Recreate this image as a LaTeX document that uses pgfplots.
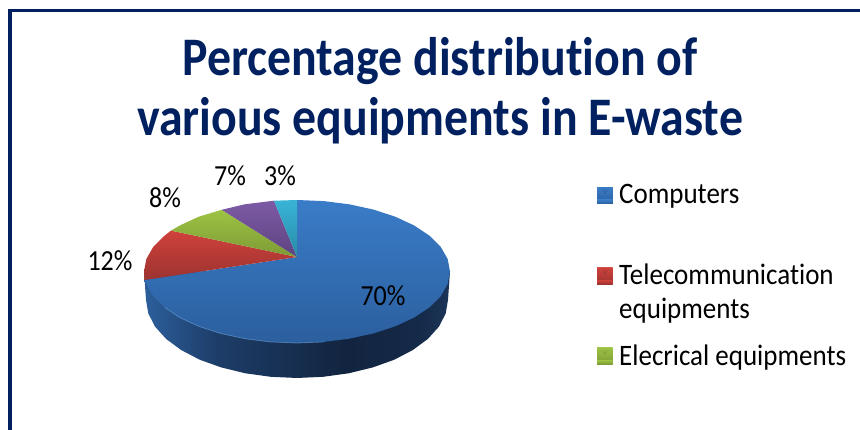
\documentclass[border=0pt]{standalone}
\usepackage{pgfplots}
\pgfplotsset{compat=1.18}
\usepackage{fontspec}
\setmainfont{Carlito}[Ligatures={TeX,NoCommon}]
\definecolor{navy}{HTML}{002060}
\definecolor{sa}{HTML}{2C5F9C}
\definecolor{sb}{HTML}{1D3D68}
\definecolor{sc}{HTML}{12243F}
\definecolor{sd}{HTML}{152A49}
\definecolor{se}{HTML}{1B3558}
\definecolor{blue1}{HTML}{3A7CC8}
\definecolor{blue2}{HTML}{2B5F9E}
\definecolor{red1}{HTML}{D0413C}
\definecolor{red2}{HTML}{9C3330}
\definecolor{green1}{HTML}{9DC343}
\definecolor{green2}{HTML}{7D9A35}
\definecolor{purple1}{HTML}{7D5AA6}
\definecolor{purple2}{HTML}{5D4380}
\definecolor{cyan1}{HTML}{38B4D6}
\definecolor{cyan2}{HTML}{2A8AA8}
\pgfdeclarehorizontalshading{sideblue}{100bp}{
 color(0bp)=(sa); color(25bp)=(sa); color(37bp)=(sb); color(58bp)=(sc); color(70bp)=(sd); color(75bp)=(se); color(100bp)=(se)}
\newcommand{\swatch}[3]{%
  \fill[#1] (0pt,8pt) rectangle (15.5pt,24.5pt);
  \fill[#2] (0pt,24.5pt) -- (15.5pt,24.5pt) -- (7.75pt,17pt) -- cycle;
  \fill[#3] (0pt,8pt) rectangle (15.5pt,12pt);}
\newcommand{\lab}[1]{\scalebox{1}[1.12]{\fontsize{26}{30}\selectfont #1}}
\newcommand{\ttl}[1]{\scalebox{1.04}[1.18]{\fontsize{46}{50}\bfseries\selectfont #1}}
\newcommand{\leg}[1]{\scalebox{1}[1.1]{#1}}
\begin{document}
\begin{tikzpicture}
\path[use as bounding box] (0,0) rectangle (860pt,430pt);
\begin{axis}[
  at={(0,0)}, anchor=south west,
  hide axis, scale only axis, width=860pt, height=430pt,
  xmin=0, xmax=860, ymin=0, ymax=430, y dir=reverse,
  legend cell align=left,
  legend style={draw=none, fill=none, at={(axis cs:597,184)}, anchor=north west,
    font=\fontsize{27}{34}\selectfont, row sep=25pt, column sep=6.5pt, inner sep=0pt,
    cells={align=left}, nodes={inner sep=0pt}},
]
% frame
\addplot[forget plot, draw=navy, line width=3.5pt, line join=miter] coordinates {(10.2,430)(10.2,10.7)(860,10.7)};
% side of the pie
\addplot[forget plot, draw=none, shading=sideblue] coordinates {
 (450,271.5)(448,300)(445.7,313.5)(438.9,326.7)(427.8,339)(412.7,350.1)(394.1,359.8)(372.5,367.5)(348.6,373.3)(323.2,376.8)(297,378)(270.8,376.8)(245.4,373.3)(221.5,367.5)(199.9,359.8)(181.3,350.1)(166.2,339)(155.1,326.7)(148.3,313.5)(146,300)(144,271.5)} -- cycle;
% Computers 70%
\addplot[draw=none, top color=blue1, bottom color=blue2,
  legend image code/.code={\swatch{blue2}{blue1!70!white}{blue2!70!black}}] coordinates {
 (297,257)(297,200)(323.6,201.1)(349.3,204.3)(373.5,209.6)(395.3,216.7)(414.2,225.5)(429.5,235.75)(440.8,247)(447.7,259.1)(450,271.5)(447.7,283.9)(440.8,296)(429.5,307.25)(414.2,317.5)(395.3,326.3)(373.5,333.4)(349.3,338.7)(323.6,341.9)(297,343)(270.4,341.9)(244.7,338.7)(220.5,333.4)(198.7,326.3)(179.8,317.5)(164.5,307.25)(153.2,296)(146.3,283.9)(144.6,280)} -- cycle;
\addlegendentry{\leg{Computers}\\\mbox{}}
% Telecommunication equipments 12%
\addplot[draw=none, top color=red1, bottom color=red2,
  legend image code/.code={\swatch{red2}{red1!70!white}{red2!70!black}}] coordinates {
 (297,257)(144.6,280)(144,271.5)(146.3,259.1)(153.2,247)(164.5,235.75)(171,230.6)} -- cycle;
\addlegendentry{\leg{Telecommunication}\\\leg{equipments}}
% Elecrical equipments 8%
\addplot[draw=none, top color=green1, bottom color=green2,
  legend image code/.code={\begin{scope}[yshift=-16pt]\swatch{green2}{green1!70!white}{green2!70!black}\end{scope}}] coordinates {
 (297,257)(171,230.6)(179.8,225.5)(198.7,216.7)(221.7,209.8)} -- cycle;
\addlegendentry{\leg{Elecrical equipments}}
% 7%
\addplot[forget plot, draw=none, top color=purple1, bottom color=purple2] coordinates {
 (297,257)(221.7,209.8)(244.7,204.3)(274,200.7)} -- cycle;
% 3%
\addplot[forget plot, draw=none, top color=cyan1, bottom color=cyan2] coordinates {
 (297,257)(274,200.7)(297,200)} -- cycle;
% rim highlight
\addplot[forget plot, draw=blue1!75!white, line width=0.8pt, opacity=0.6] coordinates {
 (164.5,307.25)(179.8,317.5)(198.7,326.3)(220.5,333.4)(244.7,338.7)(270.4,341.9)(297,343)(323.6,341.9)};
% texts
\node[anchor=base, text=navy] at (axis cs:440,76) {\ttl{Percentage distribution of}};
\node[anchor=base, text=navy] at (axis cs:440,136) {\ttl{various equipments in E-waste}};
\node at (axis cs:383,296) {\lab{70\%}};
\node at (axis cs:110,261) {\lab{12\%}};
\node at (axis cs:165,198) {\lab{8\%}};
\node at (axis cs:230,176) {\lab{7\%}};
\node at (axis cs:280,176) {\lab{3\%}};
\end{axis}
\end{tikzpicture}
\end{document}
